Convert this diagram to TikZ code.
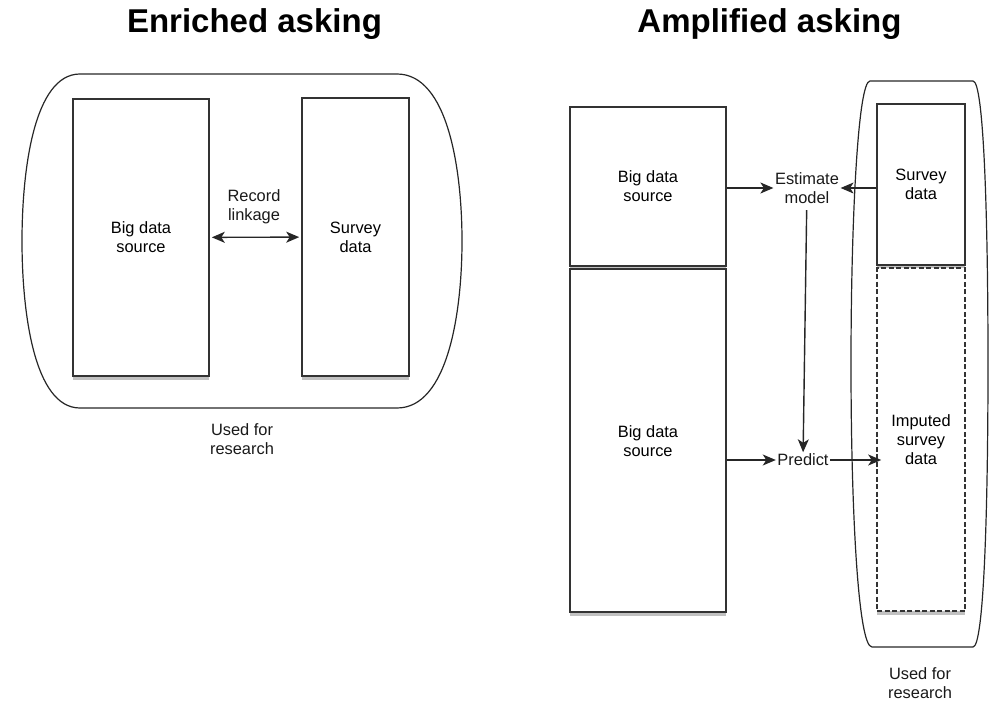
\documentclass[tikz,border=0pt]{standalone}
\usepackage{fontspec}
\setmainfont{Liberation Sans}
\usetikzlibrary{arrows.meta, positioning, shadows}

\begin{document}
\begin{tikzpicture}[
  x=1pt, y=-1pt, >={Stealth[length=13pt,width=11pt,inset=3.5pt]},
  font=\fontsize{16.4}{19}\selectfont, node distance=1.6pt,
  bx/.style={rectangle, draw=black!80, line width=1.6pt, fill=white, align=center, inner sep=0pt,
    drop shadow={shadow xshift=0pt, shadow yshift=-3.5pt, opacity=.35, fill=black!70}},
  im/.style={bx, dash pattern=on 5pt off 2.5pt},
  lb/.style={align=center, inner sep=1.5pt, text=black!90},
  ttl/.style={anchor=base, font=\fontsize{33}{38}\selectfont\bfseries},
  en/.style={draw=black!85, line width=1.2pt},
  a/.style={->, line width=1.4pt, black!85}]
\useasboundingbox (0,0) rectangle (989,701);
% titles
\node[ttl] (t0) at (254.5,33) {Enriched asking};
\node[ttl] (t1) at (769.5,33) {Amplified asking};
% enriched asking
\draw[en] (80,74) -- (397,74) .. controls (448,74) and (462,170) .. (462,241)
  .. controls (462,312) and (448,408) .. (397,408) -- (80,408)
  .. controls (34,408) and (22,312) .. (22,241) .. controls (22,170) and (34,74) .. (80,74) -- cycle;
\node[bx, minimum width=136pt, minimum height=277pt] (bd0) at (141,237.5) {Big data\\source};
\node[bx, minimum width=107pt, minimum height=278pt] (sv0) at (355.5,237) {Survey\\data};
\node[lb] (rl) at (254,207) {Record\\linkage};
\node[lb] (use0) at (242,439) {Used for\\research};
\draw[a,<->,shorten <=2pt,shorten >=2pt](bd0)--(sv0);
% amplified asking
\draw[en] (870,81) -- (973,81) .. controls (984,81) and (988,220) .. (988,364)
  .. controls (988,508) and (984,647) .. (973,647) -- (872,647)
  .. controls (858,647) and (851,508) .. (851,364) .. controls (851,220) and (858,81) .. (870,81) -- cycle;
\node[bx, minimum width=156pt, minimum height=159pt] (bd1) at (648,186.5) {Big data\\source};
\node[bx, minimum width=156pt, minimum height=343pt, below=of bd1] (bd2) {Big data\\source};
\node[bx, minimum width=88pt, minimum height=161pt] (sv1) at (921,184.5) {Survey\\data};
\node[im, minimum width=88pt, minimum height=343pt, below=of sv1] (imp) {Imputed\\survey\\data};
\node[lb] (est) at (807,188) {Estimate\\model};
\node[lb] (pred) at (803,460) {Predict};
\node[lb] (use1) at (920,683) {Used for\\research};
\draw[a](bd1.east |- est.west)--(est.west);
\draw[a](sv1.west |- est.east)--(est.east);
\draw[a,shorten <=5pt](est)--(pred);
\draw[a](bd2.east |- pred.west)--(pred.west);
\draw[a,shorten >=-5pt](pred)--(imp.west |- pred);
\end{tikzpicture}
\end{document}
